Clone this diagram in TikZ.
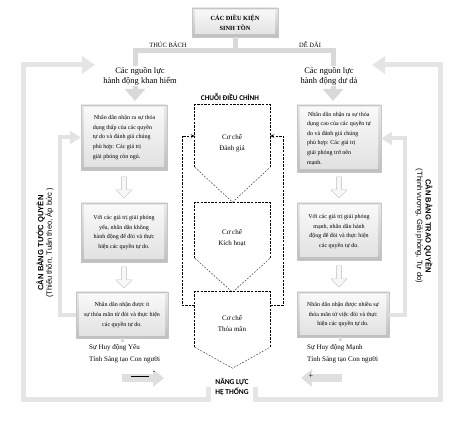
\documentclass[tikz,border=0pt]{standalone}
\usepackage{fontspec}
\setmainfont{Liberation Serif}
\newfontfamily\calfont{Carlito}
\newfontfamily\arialfont{Liberation Sans}
\usetikzlibrary{arrows.meta,shapes.arrows,calc}

\tikzset{
	bevel/.style={rectangle, draw=gray!45, line width=.3pt, top color=gray!18, bottom color=gray!50, align=center, inner sep=2pt,
		path picture={\fill[top color=gray!4, bottom color=gray!24] ([shift={(3pt,-3pt)}]path picture bounding box.north west) rectangle ([shift={(-3pt,3pt)}]path picture bounding box.south east);}},
	boxtxt/.style={bevel, font=\fontsize{6}{9.6}\selectfont},
	branch/.style={draw=gray!30, line width=5pt, -{Triangle[width=20pt,length=12pt]}},
	loopline/.style={draw=gray!20, line width=5pt, -{Triangle[width=17pt,length=13pt]}},
	inloop/.style={draw=gray!22, line width=4pt, -{Triangle[width=13pt,length=11pt]}},
	signarrow/.style={draw=gray!25, line width=8pt, -{Triangle[width=17pt,length=11pt]}},
	downarrow/.style={single arrow, draw=gray!50, fill=gray!6, rotate=-90, minimum height=21pt, minimum width=16pt, single arrow head extend=2.5pt, inner sep=1pt},
	mech/.style={dash pattern=on 2.4pt off 1.2pt, line width=.7pt},
	mechv/.style={dash pattern=on 1.8pt off 1.4pt, line width=.5pt, draw=black!75},
	mechbox/.style={rectangle, minimum width=75pt, inner sep=0pt},
	fb/.style={mech, line width=.6pt, -{Stealth[length=4pt,width=3.5pt]}},
	lbl/.style={font=\fontsize{6.5}{8}\selectfont},
	res/.style={fill=white, align=center, inner sep=1pt, font=\fontsize{8.5}{10}\selectfont},
	mtxt/.style={align=center, font=\fontsize{7}{11}\selectfont},
	side/.style={align=center, inner sep=0pt, font=\arialfont\fontsize{7.6}{8.5}\selectfont},
	huy/.style={anchor=north west, align=left, inner sep=1pt, font=\fontsize{7}{12}\selectfont},
}

\begin{document}
\begin{tikzpicture}[x=1pt,y=-1pt]
	\useasboundingbox (0,0) rectangle (468,427);
	%điều kiện
	\node[bevel, minimum width=86pt, minimum height=29pt, font=\fontsize{6.3}{9.5}\selectfont\bfseries] (dieukien) at (235,22.5) {CÁC ĐIỀU KIỆN\\SINH TỒN};
	\coordinate (khan-tip) at (135,101);
	\coordinate (du-tip) at (333,101);
	\draw[branch] (dieukien.south) -- ++(0,13) -| (khan-tip);
	\draw[branch] (dieukien.south) -- ++(0,13) -| (du-tip);
	\node[lbl] (thucbach) at (168,45) {THÚC BÁCH};
	\node[lbl] (dedai) at (310,45) {DỄ DÃI};
	\node[res] (khan) at (140,76) {Các nguồn lực\\hành động khan hiếm};
	\node[res] (du) at (329,76) {Các nguồn lực\\hành động dư dả};
	%vòng ngoài
	\node[align=left, inner sep=1pt, font=\calfont\bfseries\fontsize{7.5}{10}\selectfont] (nangluc) at (232,387) {NĂNG LỰC\\HỆ THỐNG};
	\coordinate (tuoc-tip) at (95,65);
	\coordinate (trao-tip) at (372,65);
	\draw[loopline] ([xshift=-6pt]nangluc.west) |- ++(-185,12) |- (tuoc-tip);
	\draw[loopline] ([xshift=6pt]nangluc.east) |- ++(185,12) |- (trao-tip);
	\node[side, rotate=90] (tuoc) at (45,243) {\bfseries CÂN BẰNG TƯỚC QUYỀN\\(Thiếu thốn, Tuân theo, Áp bức )};
	\node[side, rotate=-90] (trao) at (424,226) {\bfseries CÂN BẰNG TRAO QUYỀN\\(Thịnh vượng, Giải phóng, Tự do)};
	%cột trái
	\node[boxtxt, minimum width=86pt, minimum height=65pt, align=left] (l1) at (124,137.5) {\,Nhân dân nhận ra sự thỏa\\dụng thấp của các quyền\\tự do và đánh giá chúng\\phù hợp: Các giá trị\\giải phóng còn ngủ.};
	\node[boxtxt, minimum width=86pt, minimum height=59pt] (l2) at (124,232.5) {Với các giá trị giải phóng\\yếu, nhân dân không\\hành động để đòi và thực\\hiện các quyền tự do.};
	\node[boxtxt, minimum width=92pt, minimum height=46pt] (l3) at (122,315) {\hfill Nhân dân nhận được ít\\sự thỏa mãn từ đòi và thực hiện\\các quyền tự do.};
	\node[downarrow] (la1) at (124,186) {};
	\node[downarrow] (la2) at (124,276) {};
	\draw[inloop] (l3.west) -- ++(-16,0) |- (l1.west);
	\draw[draw=gray!30, line width=3pt] (l3.south) -- ++(0,4);
	\node[huy] (yeu) at (88,343) {Sự Huy động Yếu\\Tính Sáng tạo Con người};
	\coordinate (yeu-a) at (122,378);
	\coordinate (yeu-b) at (164,378);
	\draw[signarrow] (yeu-a) -- (yeu-b);
	\draw[line width=.5pt] (131,376.5) -- (149,376.5);
	\node[inner sep=0pt, font=\fontsize{7}{7}\selectfont] (tru) at (154,372.5) {-};
	%cột phải
	\node[boxtxt, minimum width=84pt, minimum height=67pt, align=left] (r1) at (339,138.5) {\,Nhân dân nhận ra sự thỏa\\dụng cao của các quyền tự\\do và đánh giá chúng\\phù hợp: Các giá trị\\giải phóng trở nên\\mạnh.};
	\node[boxtxt, minimum width=84pt, minimum height=57pt] (r2) at (339,231.5) {Với các giá trị giải phóng\\mạnh, nhân dân hành\\động để đòi và thực hiện\\các quyền tự do.};
	\node[boxtxt, minimum width=92pt, minimum height=45pt] (r3) at (343,314.5) {Nhân dân nhận được nhiều sự\\thỏa mãn từ việc đòi và thực\\hiện các quyền tự do.};
	\node[downarrow] (ra1) at (339,186) {};
	\node[downarrow] (ra2) at (339,275) {};
	\draw[inloop] (r3.east) -- ++(16,0) |- (r1.east);
	\draw[draw=gray!30, line width=3pt] (340,337) -- ++(0,4);
	\node[huy] (manh) at (306,343) {Sự Huy động Mạnh\\Tính Sáng tạo Con người};
	\coordinate (manh-a) at (342,378);
	\coordinate (manh-b) at (301,378);
	\draw[signarrow] (manh-a) -- (manh-b);
	\node[inner sep=0pt, font=\fontsize{8}{8}\selectfont] (cong) at (311,376) {+};
	%chuỗi điều chỉnh
	\node[font=\calfont\bfseries\fontsize{7.3}{9}\selectfont] (chuoi) at (230,97) {CHUỖI ĐIỀU CHỈNH};
	\node[mechbox, minimum height=62pt] (d1) at (232.5,136) {};
	\node[mechbox, minimum height=55pt] (d2) at (232.5,230.5) {};
	\node[mechbox, minimum height=55pt] (d3) at (232.5,319.5) {};
	\draw[mech] (d1.south west) -- (d1.north west) -- (d1.north east) -- (d1.south east);
	\draw[mechv] (d1.south west) -- ($(d1.south)+(0,35)$) -- (d1.south east);
	\draw[mech] (d2.south west) -- (d2.north west) -- (d2.north east) -- (d2.south east);
	\draw[mechv] (d2.south west) -- ($(d2.south)+(0,34)$) -- (d2.south east);
	\draw[mech] (d3.south west) -- (d3.north west) -- (d3.north east) -- (d3.south east);
	\draw[mechv] (d3.south west) -- ($(d3.south)+(0,21)$) -- (d3.south east);
	\node[mtxt] (danhgia) at (232,143) {Cơ chế\\Đánh giá};
	\node[mtxt] (kichhoat) at (232,238) {Cơ chế\\Kích hoạt};
	\node[mtxt] (thoaman) at (232,323) {Cơ chế\\Thỏa mãn};
	\draw[fb] ([yshift=14.5pt]d3.west) -- ++(-13,0) |- (d1.west);
	\draw[fb] ([yshift=14.5pt]d3.east) -- ++(13,0) |- (d1.east);
\end{tikzpicture}
\end{document}
